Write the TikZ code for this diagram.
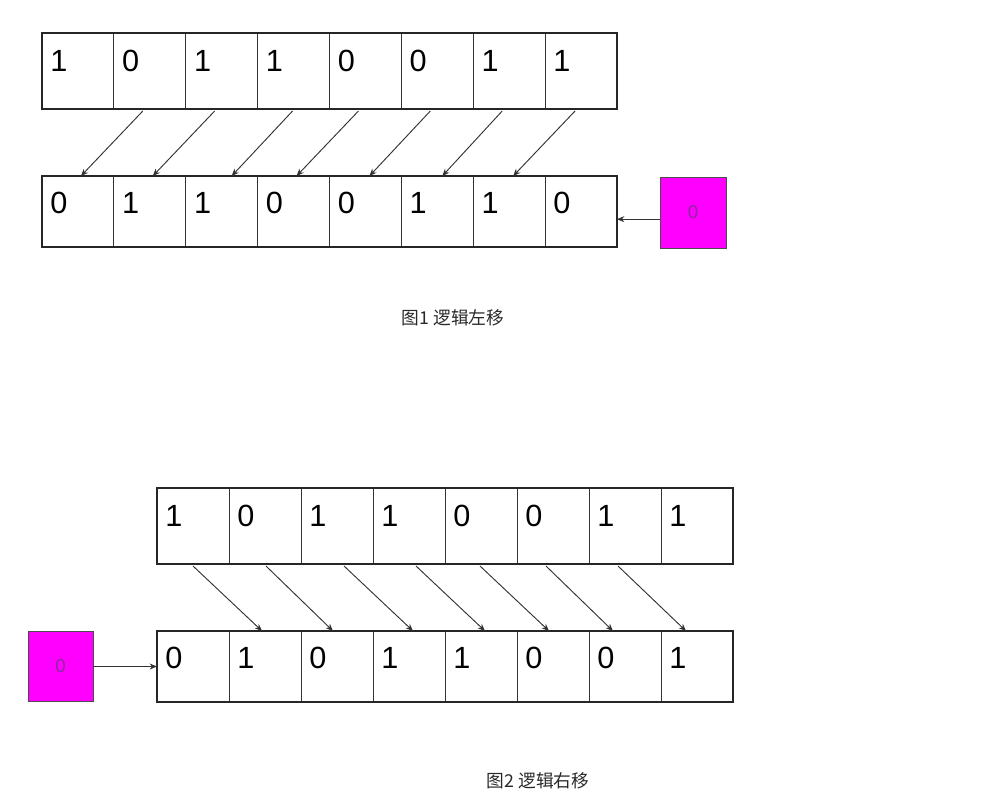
\documentclass[tikz,border=0pt]{standalone}
\usepackage{fontspec}
\setmainfont{Liberation Sans}
\newfontfamily\cjk{Noto Sans CJK SC}
\usetikzlibrary{arrows.meta,calc}
\definecolor{mag}{RGB}{255,0,255}
\definecolor{magtext}{RGB}{140,40,160}
\definecolor{captext}{RGB}{40,40,40}
\begin{document}
\begin{tikzpicture}[x=0.75pt,y=-0.75pt,
  cell/.style={draw=black!80, line width=0.75pt, inner sep=0pt, outer sep=0pt, minimum width=53.9pt},
  digit/.style={anchor=north west, inner sep=0pt, font=\fontsize{23}{23}\selectfont},
  frame/.style={draw=black!85, line width=2pt},
  arr/.style={draw=black!80, line width=0.7pt, -{Stealth[length=5.5pt,width=4.5pt]}},
  magbox/.style={draw=black!70, line width=0.6pt, fill=mag, inner sep=0pt, text=magtext, font=\fontsize{14}{14}\selectfont},
  caption/.style={text=captext, inner sep=0pt, font=\cjk\fontsize{13.3}{13.3}\selectfont}]
\useasboundingbox (0,0) rectangle (989,807);

% ---------- Figure 1 ----------
\foreach \v [count=\i] in {1,0,1,1,0,0,1,1} {
  \node[cell, minimum height=57pt] (ta\i) at ({42+71.875*(\i-0.5)},71) {};
  \node[digit] (tad\i) at ($(ta\i.north west)+(8,17)$) {\v};
}
\foreach \v [count=\i] in {0,1,1,0,0,1,1,0} {
  \node[cell, minimum height=53.25pt] (ba\i) at ({42+71.875*(\i-0.5)},211.5) {};
  \node[digit] (bad\i) at ($(ba\i.north west)+(8,16)$) {\v};
}
\draw[frame] (ta1.north west) rectangle (ta8.south east);
\draw[frame] (ba1.north west) rectangle (ba8.south east);
\foreach \s/\e/\ds/\de in {2/1/-7/3, 3/2/-7/3, 4/3/-1/10, 5/4/-7/3, 6/5/-7/4, 7/6/-7/5, 8/7/-6/4} {
  \draw[arr] ($(ta\s.south)+(\ds,2)$) -- ($(ba\e.north)+(\de,0)$);
}
\node[magbox, minimum width=49.5pt, minimum height=53.25pt] (m1) at (693,212.5) {0};
\draw[arr] ([yshift=-5pt]m1.west) -- ([yshift=-5pt]m1.west -| ba8.east);
\node[caption] (cap1) at (453,318) {图1 逻辑左移};

% ---------- Figure 2 ----------
\foreach \v [count=\i] in {1,0,1,1,0,0,1,1} {
  \node[cell, minimum width=54pt, minimum height=57pt] (tb\i) at ({157+72*(\i-0.5)},526) {};
  \node[digit] (tbd\i) at ($(tb\i.north west)+(8,17)$) {\v};
}
\foreach \v [count=\i] in {0,1,0,1,1,0,0,1} {
  \node[cell, minimum width=54pt, minimum height=53.25pt] (bb\i) at ({157+72*(\i-0.5)},666.5) {};
  \node[digit] (bbd\i) at ($(bb\i.north west)+(8,16)$) {\v};
}
\draw[frame] (tb1.north west) rectangle (tb8.south east);
\draw[frame] (bb1.north west) rectangle (bb8.south east);
\foreach \s/\e/\ds/\de in {1/2/0/-3, 2/3/1/-4, 3/4/7/4, 4/5/7/4, 5/6/-1/-4, 6/7/-7/-12, 7/8/-7/-11} {
  \draw[arr] ($(tb\s.south)+(\ds,2)$) -- ($(bb\e.north)+(\de,0)$);
}
\node[magbox, minimum width=48.75pt, minimum height=52.5pt] (m2) at (60.5,666.5) {0};
\draw[arr] (m2.east) -- (bb1.west);
\node[caption] (cap2) at (538,781) {图2 逻辑右移};
\end{tikzpicture}
\end{document}
